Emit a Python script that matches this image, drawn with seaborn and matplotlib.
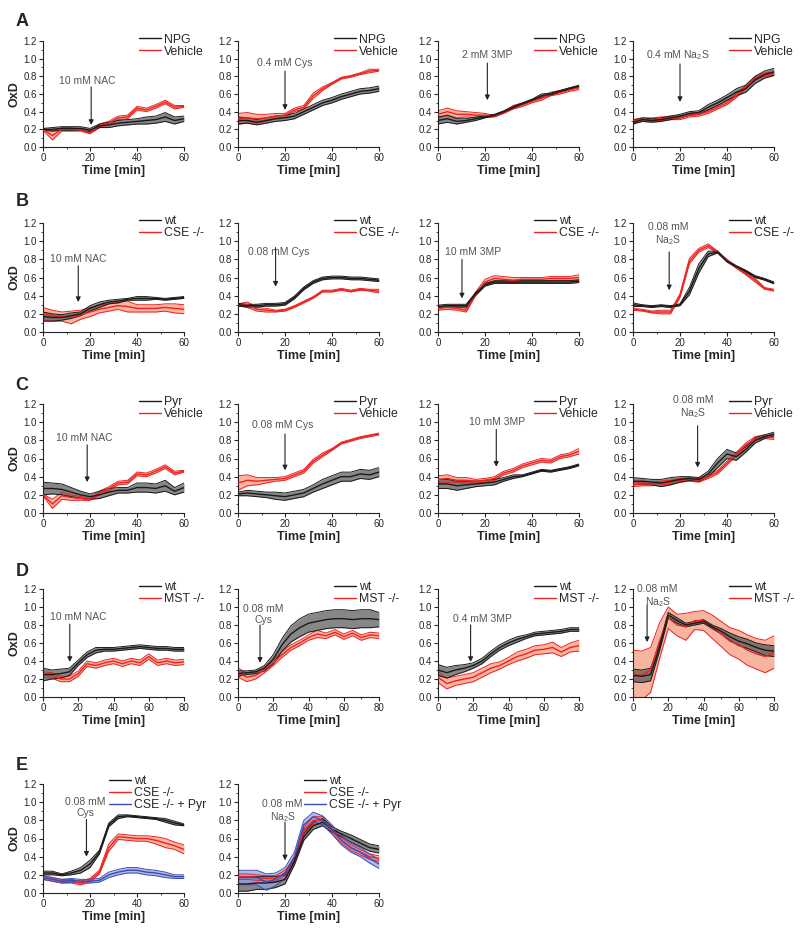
import matplotlib
matplotlib.use('Agg')
import matplotlib.pyplot as plt
import seaborn as sns
import numpy as np
from matplotlib.lines import Line2D
from matplotlib.ticker import MultipleLocator, FormatStrFormatter

# ---------------- time axes ----------------
T60 = [0, 4, 8, 12, 16, 20, 24, 28, 32, 36, 40, 44, 48, 52, 56, 60]
T80 = [0, 5, 10, 15, 20, 25, 30, 35, 40, 45, 50, 55, 60, 65, 70, 75, 80]

# ---------------- row A : NPG vs Vehicle ----------------
A1_npg = [0.20, 0.20, 0.21, 0.21, 0.21, 0.19, 0.24, 0.25, 0.27, 0.28, 0.29, 0.30, 0.31, 0.34, 0.30, 0.32]
A1_npg_sem = [0.01, 0.02, 0.02, 0.02, 0.02, 0.02, 0.02, 0.03, 0.03, 0.03, 0.03, 0.04, 0.04, 0.05, 0.04, 0.03]
A1_veh = [0.20, 0.13, 0.20, 0.20, 0.19, 0.16, 0.24, 0.27, 0.33, 0.34, 0.44, 0.42, 0.46, 0.51, 0.45, 0.46]
A1_veh_sem = [0.01, 0.05, 0.02, 0.02, 0.01, 0.01, 0.02, 0.02, 0.02, 0.02, 0.02, 0.02, 0.02, 0.02, 0.02, 0.01]

A2_npg = [0.30, 0.30, 0.28, 0.30, 0.32, 0.33, 0.35, 0.40, 0.45, 0.50, 0.53, 0.57, 0.60, 0.63, 0.64, 0.66]
A2_npg_sem = [0.04, 0.03, 0.03, 0.03, 0.03, 0.03, 0.03, 0.03, 0.03, 0.03, 0.03, 0.03, 0.03, 0.03, 0.03, 0.03]
A2_veh = [0.32, 0.33, 0.32, 0.33, 0.35, 0.36, 0.42, 0.45, 0.58, 0.66, 0.72, 0.78, 0.80, 0.83, 0.86, 0.87]
A2_veh_sem = [0.06, 0.06, 0.05, 0.04, 0.03, 0.02, 0.02, 0.02, 0.03, 0.02, 0.01, 0.01, 0.01, 0.01, 0.02, 0.01]

A3_npg = [0.30, 0.32, 0.29, 0.30, 0.32, 0.34, 0.36, 0.40, 0.45, 0.49, 0.53, 0.58, 0.60, 0.63, 0.66, 0.69]
A3_npg_sem = [0.04, 0.04, 0.03, 0.02, 0.02, 0.01, 0.01, 0.01, 0.01, 0.01, 0.01, 0.02, 0.01, 0.01, 0.01, 0.01]
A3_veh = [0.37, 0.40, 0.37, 0.37, 0.36, 0.36, 0.35, 0.39, 0.45, 0.48, 0.52, 0.55, 0.60, 0.62, 0.65, 0.67]
A3_veh_sem = [0.04, 0.04, 0.04, 0.03, 0.03, 0.02, 0.01, 0.01, 0.02, 0.02, 0.02, 0.02, 0.02, 0.02, 0.02, 0.02]

A4_npg = [0.28, 0.31, 0.30, 0.31, 0.33, 0.35, 0.38, 0.39, 0.45, 0.50, 0.56, 0.62, 0.66, 0.76, 0.82, 0.85]
A4_npg_sem = [0.02, 0.02, 0.02, 0.02, 0.02, 0.02, 0.02, 0.02, 0.03, 0.03, 0.03, 0.04, 0.04, 0.04, 0.04, 0.04]
A4_veh = [0.29, 0.31, 0.31, 0.32, 0.33, 0.33, 0.36, 0.37, 0.40, 0.45, 0.50, 0.58, 0.68, 0.78, 0.82, 0.83]
A4_veh_sem = [0.02, 0.02, 0.02, 0.02, 0.02, 0.02, 0.02, 0.02, 0.02, 0.02, 0.02, 0.02, 0.02, 0.02, 0.02, 0.02]

# ---------------- row B : wt vs CSE -/- ----------------
B1_wt = [0.17, 0.16, 0.16, 0.18, 0.20, 0.26, 0.30, 0.33, 0.34, 0.36, 0.37, 0.37, 0.37, 0.36, 0.37, 0.38]
B1_wt_sem = [0.05, 0.04, 0.03, 0.03, 0.02, 0.03, 0.03, 0.02, 0.02, 0.01, 0.02, 0.02, 0.01, 0.01, 0.01, 0.01]
B1_ko = [0.20, 0.18, 0.17, 0.16, 0.19, 0.22, 0.25, 0.27, 0.29, 0.28, 0.26, 0.26, 0.26, 0.27, 0.26, 0.25]
B1_ko_sem = [0.07, 0.06, 0.05, 0.07, 0.05, 0.05, 0.04, 0.04, 0.04, 0.06, 0.04, 0.04, 0.04, 0.04, 0.05, 0.05]

B2_wt = [0.30, 0.29, 0.29, 0.30, 0.30, 0.31, 0.38, 0.48, 0.55, 0.59, 0.60, 0.60, 0.59, 0.59, 0.58, 0.57]
B2_wt_sem = [0.015, 0.015, 0.015, 0.015, 0.015, 0.015, 0.015, 0.015, 0.015, 0.015, 0.015, 0.015, 0.015, 0.015, 0.015, 0.015]
B2_ko = [0.30, 0.30, 0.25, 0.24, 0.23, 0.24, 0.28, 0.33, 0.38, 0.45, 0.45, 0.47, 0.45, 0.47, 0.46, 0.45]
B2_ko_sem = [0.01, 0.03, 0.02, 0.02, 0.01, 0.01, 0.01, 0.01, 0.01, 0.01, 0.01, 0.01, 0.01, 0.01, 0.01, 0.02]

B3_wt = [0.28, 0.29, 0.29, 0.29, 0.42, 0.52, 0.55, 0.55, 0.55, 0.55, 0.55, 0.55, 0.55, 0.55, 0.55, 0.56]
B3_wt_sem = [0.015, 0.015, 0.015, 0.015, 0.015, 0.015, 0.015, 0.015, 0.015, 0.015, 0.015, 0.015, 0.015, 0.015, 0.015, 0.015]
B3_ko = [0.26, 0.27, 0.26, 0.24, 0.42, 0.55, 0.59, 0.58, 0.57, 0.58, 0.58, 0.58, 0.59, 0.59, 0.59, 0.60]
B3_ko_sem = [0.02, 0.02, 0.02, 0.02, 0.02, 0.03, 0.03, 0.03, 0.03, 0.02, 0.02, 0.02, 0.02, 0.02, 0.02, 0.03]

B4_wt = [0.30, 0.29, 0.28, 0.29, 0.28, 0.30, 0.45, 0.70, 0.86, 0.88, 0.78, 0.72, 0.67, 0.61, 0.58, 0.54]
B4_wt_sem = [0.02, 0.01, 0.01, 0.01, 0.01, 0.01, 0.04, 0.05, 0.03, 0.01, 0.01, 0.01, 0.01, 0.01, 0.01, 0.01]
B4_ko = [0.25, 0.24, 0.22, 0.22, 0.22, 0.40, 0.78, 0.90, 0.95, 0.88, 0.79, 0.71, 0.64, 0.57, 0.48, 0.46]
B4_ko_sem = [0.01, 0.01, 0.01, 0.02, 0.02, 0.02, 0.03, 0.02, 0.02, 0.01, 0.01, 0.01, 0.01, 0.02, 0.01, 0.01]

# ---------------- row C : Pyr vs Vehicle ----------------
C1_pyr = [0.27, 0.27, 0.26, 0.23, 0.20, 0.18, 0.20, 0.23, 0.25, 0.25, 0.28, 0.28, 0.27, 0.30, 0.24, 0.28]
C1_pyr_sem = [0.07, 0.06, 0.06, 0.05, 0.04, 0.03, 0.04, 0.04, 0.03, 0.03, 0.05, 0.05, 0.05, 0.06, 0.04, 0.05]
C1_veh = [0.20, 0.10, 0.19, 0.17, 0.16, 0.15, 0.22, 0.27, 0.33, 0.34, 0.43, 0.42, 0.46, 0.51, 0.44, 0.46]
C1_veh_sem = [0.01, 0.05, 0.04, 0.03, 0.02, 0.01, 0.02, 0.02, 0.02, 0.02, 0.02, 0.02, 0.02, 0.02, 0.02, 0.01]

C2_pyr = [0.21, 0.22, 0.21, 0.20, 0.19, 0.18, 0.20, 0.22, 0.27, 0.32, 0.36, 0.40, 0.40, 0.43, 0.42, 0.45]
C2_pyr_sem = [0.02, 0.03, 0.03, 0.03, 0.04, 0.04, 0.04, 0.04, 0.04, 0.05, 0.05, 0.05, 0.05, 0.05, 0.05, 0.05]
C2_veh = [0.33, 0.36, 0.35, 0.36, 0.37, 0.38, 0.42, 0.46, 0.57, 0.64, 0.70, 0.77, 0.80, 0.83, 0.85, 0.87]
C2_veh_sem = [0.08, 0.06, 0.04, 0.03, 0.02, 0.02, 0.02, 0.02, 0.02, 0.02, 0.01, 0.01, 0.01, 0.01, 0.01, 0.01]

C3_pyr = [0.32, 0.32, 0.30, 0.31, 0.32, 0.33, 0.34, 0.37, 0.40, 0.41, 0.44, 0.47, 0.46, 0.48, 0.50, 0.53]
C3_pyr_sem = [0.05, 0.05, 0.05, 0.04, 0.03, 0.03, 0.03, 0.02, 0.02, 0.01, 0.01, 0.01, 0.01, 0.01, 0.01, 0.01]
C3_veh = [0.37, 0.38, 0.36, 0.36, 0.35, 0.36, 0.38, 0.44, 0.47, 0.52, 0.55, 0.58, 0.57, 0.62, 0.64, 0.68]
C3_veh_sem = [0.04, 0.04, 0.03, 0.03, 0.02, 0.02, 0.02, 0.02, 0.02, 0.02, 0.02, 0.02, 0.02, 0.02, 0.02, 0.03]

C4_pyr = [0.35, 0.35, 0.34, 0.33, 0.35, 0.37, 0.38, 0.37, 0.43, 0.55, 0.65, 0.62, 0.70, 0.80, 0.84, 0.87]
C4_pyr_sem = [0.04, 0.03, 0.03, 0.04, 0.04, 0.03, 0.02, 0.02, 0.03, 0.05, 0.05, 0.04, 0.03, 0.03, 0.02, 0.02]
C4_veh = [0.31, 0.32, 0.32, 0.33, 0.34, 0.36, 0.37, 0.36, 0.40, 0.45, 0.55, 0.65, 0.75, 0.82, 0.84, 0.83]
C4_veh_sem = [0.02, 0.02, 0.02, 0.02, 0.02, 0.02, 0.02, 0.02, 0.02, 0.02, 0.02, 0.02, 0.02, 0.02, 0.02, 0.02]

# ---------------- row D : wt vs MST -/- (80 min) ----------------
D1_wt = [0.25, 0.25, 0.26, 0.28, 0.38, 0.47, 0.52, 0.53, 0.53, 0.54, 0.55, 0.56, 0.55, 0.54, 0.54, 0.53, 0.53]
D1_wt_sem = [0.07, 0.05, 0.05, 0.04, 0.03, 0.03, 0.03, 0.02, 0.02, 0.02, 0.02, 0.02, 0.02, 0.02, 0.02, 0.02, 0.02]
D1_ko = [0.25, 0.24, 0.20, 0.20, 0.26, 0.37, 0.35, 0.38, 0.40, 0.37, 0.40, 0.38, 0.45, 0.38, 0.40, 0.38, 0.39]
D1_ko_sem = [0.03, 0.03, 0.03, 0.03, 0.03, 0.03, 0.03, 0.03, 0.03, 0.03, 0.03, 0.03, 0.03, 0.03, 0.03, 0.03, 0.03]

D2_wt = [0.26, 0.27, 0.28, 0.32, 0.42, 0.58, 0.70, 0.77, 0.82, 0.84, 0.86, 0.87, 0.87, 0.86, 0.87, 0.87, 0.86]
D2_wt_sem = [0.03, 0.02, 0.02, 0.03, 0.05, 0.07, 0.09, 0.10, 0.10, 0.10, 0.10, 0.10, 0.10, 0.10, 0.10, 0.10, 0.08]
D2_ko = [0.27, 0.22, 0.24, 0.30, 0.38, 0.47, 0.55, 0.60, 0.66, 0.70, 0.68, 0.72, 0.67, 0.71, 0.66, 0.69, 0.68]
D2_ko_sem = [0.05, 0.05, 0.04, 0.03, 0.03, 0.03, 0.03, 0.03, 0.03, 0.04, 0.03, 0.03, 0.03, 0.03, 0.03, 0.03, 0.03]

D3_wt = [0.30, 0.27, 0.30, 0.32, 0.35, 0.40, 0.48, 0.55, 0.60, 0.64, 0.67, 0.70, 0.71, 0.72, 0.73, 0.75, 0.75]
D3_wt_sem = [0.06, 0.06, 0.05, 0.04, 0.03, 0.03, 0.03, 0.03, 0.03, 0.03, 0.02, 0.02, 0.02, 0.02, 0.02, 0.02, 0.02]
D3_ko = [0.22, 0.15, 0.18, 0.20, 0.22, 0.27, 0.32, 0.35, 0.40, 0.45, 0.48, 0.52, 0.53, 0.55, 0.50, 0.55, 0.57]
D3_ko_sem = [0.06, 0.06, 0.05, 0.05, 0.05, 0.05, 0.05, 0.04, 0.04, 0.05, 0.05, 0.05, 0.05, 0.06, 0.05, 0.05, 0.06]

D4_wt = [0.24, 0.23, 0.25, 0.55, 0.91, 0.85, 0.80, 0.82, 0.84, 0.78, 0.73, 0.67, 0.62, 0.59, 0.55, 0.52, 0.51]
D4_wt_sem = [0.07, 0.07, 0.07, 0.04, 0.03, 0.03, 0.02, 0.02, 0.02, 0.02, 0.03, 0.04, 0.05, 0.05, 0.05, 0.06, 0.06]
D4_ko = [0.25, 0.24, 0.30, 0.62, 0.88, 0.80, 0.78, 0.85, 0.85, 0.78, 0.70, 0.62, 0.58, 0.52, 0.48, 0.45, 0.50]
D4_ko_sem = [0.27, 0.27, 0.25, 0.20, 0.12, 0.12, 0.15, 0.10, 0.11, 0.13, 0.14, 0.15, 0.16, 0.17, 0.17, 0.18, 0.18]

# ---------------- row E : wt, CSE -/-, CSE -/- + Pyr ----------------
E1_wt = [0.22, 0.22, 0.20, 0.22, 0.25, 0.32, 0.45, 0.75, 0.84, 0.85, 0.84, 0.83, 0.82, 0.80, 0.77, 0.75]
E1_wt_sem = [0.02, 0.02, 0.01, 0.02, 0.03, 0.04, 0.02, 0.02, 0.02, 0.01, 0.01, 0.01, 0.01, 0.02, 0.02, 0.01]
E1_ko = [0.17, 0.15, 0.13, 0.13, 0.11, 0.14, 0.23, 0.50, 0.62, 0.61, 0.60, 0.60, 0.58, 0.55, 0.52, 0.48]
E1_ko_sem = [0.02, 0.02, 0.02, 0.02, 0.02, 0.02, 0.02, 0.04, 0.03, 0.03, 0.03, 0.03, 0.04, 0.05, 0.04, 0.05]
E1_pyr = [0.17, 0.15, 0.13, 0.14, 0.13, 0.13, 0.14, 0.20, 0.23, 0.25, 0.25, 0.23, 0.22, 0.20, 0.18, 0.18]
E1_pyr_sem = [0.02, 0.02, 0.02, 0.02, 0.02, 0.02, 0.02, 0.03, 0.03, 0.03, 0.03, 0.03, 0.03, 0.03, 0.02, 0.02]

E2_wt = [0.10, 0.10, 0.11, 0.11, 0.12, 0.15, 0.35, 0.62, 0.74, 0.78, 0.70, 0.65, 0.60, 0.55, 0.50, 0.48]
E2_wt_sem = [0.08, 0.08, 0.07, 0.07, 0.06, 0.05, 0.04, 0.04, 0.04, 0.04, 0.03, 0.03, 0.04, 0.04, 0.04, 0.04]
E2_ko = [0.18, 0.18, 0.17, 0.16, 0.16, 0.22, 0.35, 0.68, 0.80, 0.80, 0.68, 0.58, 0.50, 0.45, 0.40, 0.38]
E2_ko_sem = [0.03, 0.03, 0.03, 0.03, 0.03, 0.03, 0.03, 0.04, 0.04, 0.04, 0.03, 0.03, 0.03, 0.03, 0.03, 0.03]
E2_pyr = [0.17, 0.17, 0.17, 0.12, 0.15, 0.22, 0.40, 0.75, 0.84, 0.80, 0.70, 0.58, 0.50, 0.45, 0.38, 0.32]
E2_pyr_sem = [0.08, 0.08, 0.08, 0.09, 0.07, 0.06, 0.05, 0.05, 0.05, 0.05, 0.05, 0.05, 0.05, 0.05, 0.05, 0.05]

ROW_LABELS = [["NPG", "Vehicle"], ["wt", "CSE -/-"], ["Pyr", "Vehicle"],
              ["wt", "MST -/-"], ["wt", "CSE -/-", "CSE -/- + Pyr"]]
LETTERS = ["A", "B", "C", "D", "E"]

# ---------------- style ----------------
sns.set_theme(style="ticks")
plt.rcParams['font.family'] = ['Liberation Sans', 'DejaVu Sans']
plt.rcParams['mathtext.fontset'] = 'custom'
plt.rcParams['mathtext.rm'] = 'Liberation Sans'
plt.rcParams['mathtext.it'] = 'Liberation Sans:italic'
plt.rcParams['mathtext.bf'] = 'Liberation Sans:bold'

BLACK = dict(line='#1a1a1a', fill='#555555', alpha=0.7)
RED = dict(line='#ee2222', fill='#f6a88e', alpha=0.85)
BLUE = dict(line='#3a4db5', fill='#98a2dc', alpha=0.75)

# (row, col, time, xmax, [(mean, sem, style) in legend order], text, tx, ty, arrow_x, arrow_top, arrow_tip)
PANELS = [
    (0, 0, T60, 60, [(A1_npg, A1_npg_sem, BLACK), (A1_veh, A1_veh_sem, RED)], "10 mM NAC", 19, 0.75, 20.5, 0.68, 0.25),
    (0, 1, T60, 60, [(A2_npg, A2_npg_sem, BLACK), (A2_veh, A2_veh_sem, RED)], "0.4 mM Cys", 20, 0.95, 20, 0.86, 0.42),
    (0, 2, T60, 60, [(A3_npg, A3_npg_sem, BLACK), (A3_veh, A3_veh_sem, RED)], "2 mM 3MP", 21, 1.04, 21, 0.95, 0.53),
    (0, 3, T60, 60, [(A4_npg, A4_npg_sem, BLACK), (A4_veh, A4_veh_sem, RED)], "0.4 mM Na$_2$S", 19, 1.04, 20, 0.94, 0.51),
    (1, 0, T60, 60, [(B1_wt, B1_wt_sem, BLACK), (B1_ko, B1_ko_sem, RED)], "10 mM NAC", 15, 0.80, 15, 0.73, 0.33),
    (1, 1, T60, 60, [(B2_wt, B2_wt_sem, BLACK), (B2_ko, B2_ko_sem, RED)], "0.08 mM Cys", 17.5, 0.88, 16, 0.93, 0.50),
    (1, 2, T60, 60, [(B3_wt, B3_wt_sem, BLACK), (B3_ko, B3_ko_sem, RED)], "10 mM 3MP", 15, 0.88, 10.2, 0.80, 0.37),
    (1, 3, T60, 60, [(B4_wt, B4_wt_sem, BLACK), (B4_ko, B4_ko_sem, RED)], "0.08 mM\nNa$_2$S", 15, 1.07, 15.4, 0.88, 0.46),
    (2, 0, T60, 60, [(C1_pyr, C1_pyr_sem, BLACK), (C1_veh, C1_veh_sem, RED)], "10 mM NAC", 17.4, 0.83, 18.8, 0.75, 0.34),
    (2, 1, T60, 60, [(C2_pyr, C2_pyr_sem, BLACK), (C2_veh, C2_veh_sem, RED)], "0.08 mM Cys", 19, 0.97, 20, 0.87, 0.47),
    (2, 2, T60, 60, [(C3_pyr, C3_pyr_sem, BLACK), (C3_veh, C3_veh_sem, RED)], "10 mM 3MP", 25, 1.00, 24.8, 0.92, 0.51),
    (2, 3, T60, 60, [(C4_pyr, C4_pyr_sem, BLACK), (C4_veh, C4_veh_sem, RED)], "0.08 mM\nNa$_2$S", 25.5, 1.16, 27.5, 0.96, 0.50),
    (3, 0, T80, 80, [(D1_wt, D1_wt_sem, BLACK), (D1_ko, D1_ko_sem, RED)], "10 mM NAC", 20, 0.89, 15.2, 0.81, 0.39),
    (3, 1, T80, 80, [(D2_wt, D2_wt_sem, BLACK), (D2_ko, D2_ko_sem, RED)], "0.08 mM\nCys", 14.5, 0.92, 12.5, 0.80, 0.38),
    (3, 2, T80, 80, [(D3_wt, D3_wt_sem, BLACK), (D3_ko, D3_ko_sem, RED)], "0.4 mM 3MP", 25, 0.87, 18.5, 0.80, 0.39),
    (3, 3, T80, 80, [(D4_wt, D4_wt_sem, BLACK), (D4_ko, D4_ko_sem, RED)], "0.08 mM\nNa$_2$S", 14, 1.12, 8, 1.02, 0.61),
    (4, 0, T60, 60, [(E1_wt, E1_wt_sem, BLACK), (E1_ko, E1_ko_sem, RED), (E1_pyr, E1_pyr_sem, BLUE)], "0.08 mM\nCys", 18, 0.94, 18.5, 0.81, 0.40),
    (4, 1, T60, 60, [(E2_wt, E2_wt_sem, BLACK), (E2_ko, E2_ko_sem, RED), (E2_pyr, E2_pyr_sem, BLUE)], "0.08 mM\nNa$_2$S", 19, 0.90, 20, 0.78, 0.36),
]

W, H = 800, 932
COL_LEFT = [43, 238, 438, 633]
COL_W = 141
ROW_TOP = [41, 223, 404, 589, 784]
ROW_H = [106, 109, 109, 108, 109]
LETTER_Y = [21, 202, 386, 572, 766]

fig = plt.figure(figsize=(W / 100, H / 100), dpi=100)


def draw_series(ax, t, mean, sem, st):
    m = np.array(mean)
    s = np.array(sem)
    lo, hi = m - s, m + s
    ax.fill_between(t, lo, hi, color=st['fill'], alpha=st['alpha'], lw=0, zorder=1)
    sns.lineplot(x=t, y=lo, ax=ax, color=st['line'], lw=0.7, legend=False, zorder=2)
    sns.lineplot(x=t, y=hi, ax=ax, color=st['line'], lw=0.7, legend=False, zorder=2)
    sns.lineplot(x=t, y=m, ax=ax, color=st['line'], lw=1.0, legend=False, zorder=3)


for (r, c, t, xmax, series, txt, tx, ty, axx, atop, atip) in PANELS:
    l, top, w, h = COL_LEFT[c], ROW_TOP[r], COL_W, ROW_H[r]
    ax = fig.add_axes([l / W, 1 - (top + h) / H, w / W, h / H])
    # draw order: red first, then black, then blue on top
    order = [1, 0] + ([2] if len(series) > 2 else [])
    for i in order:
        mean, sem, st = series[i]
        draw_series(ax, t, mean, sem, st)
    ax.set_xlim(0, xmax)
    ax.set_ylim(0, 1.2)
    ax.xaxis.set_major_locator(MultipleLocator(20))
    ax.xaxis.set_minor_locator(MultipleLocator(10))
    ax.yaxis.set_major_locator(MultipleLocator(0.2))
    ax.yaxis.set_minor_locator(MultipleLocator(0.1))
    ax.yaxis.set_major_formatter(FormatStrFormatter('%.1f'))
    ax.tick_params(axis='both', which='major', labelsize=7, length=3, width=0.8, pad=1.5, direction='out')
    ax.tick_params(axis='both', which='minor', length=1.5, width=0.6, direction='out')
    sns.despine(ax=ax)
    for sp in ['left', 'bottom']:
        ax.spines[sp].set_linewidth(0.8)
        ax.spines[sp].set_color('#222222')
    ax.set_xlabel("Time [min]", fontsize=9, fontweight='bold', labelpad=1.5)
    if c == 0:
        ax.set_ylabel("OxD", fontsize=9, fontweight='bold', labelpad=2)
    else:
        ax.set_ylabel("")
    # annotation
    ax.text(tx, ty, txt, ha='center', va='center', fontsize=7.5, color='#555555', linespacing=1.1)
    ax.annotate('', xy=(axx, atip), xytext=(axx, atop),
                arrowprops=dict(arrowstyle='-|>', color='#222222', lw=0.8, mutation_scale=7,
                                shrinkA=0, shrinkB=0))
    # legend
    labels = ROW_LABELS[r]
    handles = [Line2D([], [], color=s[2]['line'], lw=1.0) for s in series]
    if r == 4:
        anchor = (0.47, 1.08)
    else:
        anchor = (0.68, 1.07)
    ax.legend(handles, labels, loc='upper left', bbox_to_anchor=anchor, frameon=False,
              fontsize=8.8, handlelength=1.8, handletextpad=0.25, labelspacing=0.0,
              borderpad=0, borderaxespad=0)

for i, letter in enumerate(LETTERS):
    fig.text(22 / W, 1 - LETTER_Y[i] / H, letter, fontsize=13, fontweight='bold', ha='center', va='center')

fig.savefig("out.png", dpi=100)
